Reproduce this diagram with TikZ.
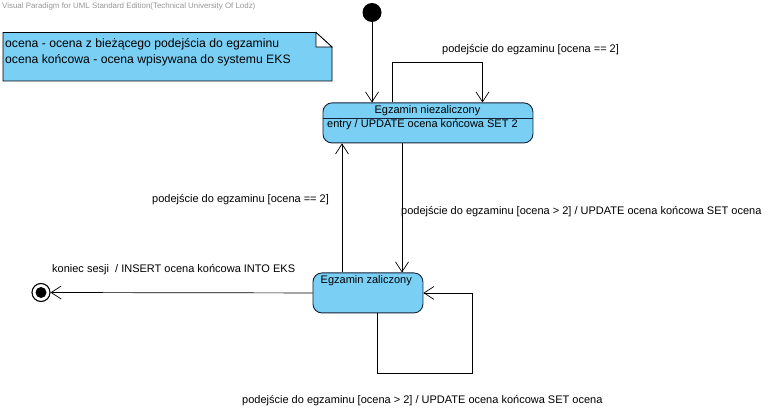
\documentclass[tikz,border=0pt]{standalone}
\usepackage{fontspec}
\setmainfont{Liberation Sans}
\usetikzlibrary{arrows.meta, positioning}
\definecolor{StateBlue}{RGB}{122, 207, 245}
\definecolor{StateLine}{RGB}{22, 34, 58}
\definecolor{MarkGrey}{RGB}{150, 150, 150}

\tikzset{
  state/.style={draw=StateLine, fill=StateBlue, rounded corners=9pt, line width=0.9pt, inner sep=0pt, anchor=north west},
  trans/.style={-{Straight Barb[length=10pt, width=13pt]}, line width=0.7pt},
  lbl/.style={font=\fontsize{11}{12}\selectfont, inner sep=0pt, anchor=base west},
  notelbl/.style={font=\fontsize{12.2}{14}\selectfont, inner sep=0pt, anchor=base west},
}

\begin{document}
\begin{tikzpicture}[x=1pt, y=-1pt]
    \useasboundingbox (0,0) rectangle (777,411);

    % Watermark
    \node[anchor=base west, inner sep=0pt, text=MarkGrey, font=\fontsize{7.9}{9}\selectfont] (mark) at (2,9) {Visual Paradigm for UML Standard Edition(Technical University Of Lodz)};

    % Note
    \draw[fill=StateBlue, line width=0.8pt] (3,32.5) -- (316,32.5) -- (332,47) -- (332,81) -- (3,81) -- cycle;
    \draw[fill=white, line width=0.8pt] (316,32.5) -- (316,47) -- (332,47) -- cycle;
    \node[notelbl] (noteone) at (5,47.7) {ocena - ocena z bieżącego podejścia do egzaminu};
    \node[notelbl] (notetwo) at (5,63.5) {ocena końcowa - ocena wpisywana do systemu EKS};

    % States
    \node[state, minimum width=210, minimum height=40] (fail) at (322.5,102.5) {};
    \draw[draw=StateLine, line width=0.9pt] ([yshift=-15.8pt]fail.north west) -- ([yshift=-15.8pt]fail.north east);
    \node[lbl, anchor=base] (failname) at (427.5,114) {Egzamin niezaliczony};
    \node[lbl] (failentry) at (327,127.7) {entry / UPDATE ocena końcowa SET 2};

    \node[state, minimum width=110, minimum height=40] (pass) at (312.5,272.5) {};
    \node[lbl] (passname) at (320.5,284) {Egzamin zaliczony};

    % Initial and final
    \node[circle, fill=black, minimum size=19, inner sep=0pt] (init) at (372,12.5) {};
    \node[circle, draw, fill=white, line width=1.1pt, minimum size=18, inner sep=0pt] (fin) at (41,292.5) {};
    \node[circle, fill=black, minimum size=11, inner sep=0pt] (finin) at (fin) {};

    % Transitions
    \draw[trans] (init) -- (init |- fail.north);
    \draw[trans] ([xshift=69.5pt]fail.north west) -- ++(0,-40) -| ([xshift=160pt]fail.north west);
    \draw[trans] ([xshift=79.5pt]fail.south west) -- ([xshift=89.5pt]pass.north west);
    \draw[trans] ([xshift=29.5pt]pass.north west) -- ([xshift=19.5pt]fail.south west);
    \draw[trans] ([xshift=65pt]pass.south west) -- ++(0,59.5) -- ++(94.5,0) |- (pass.east);
    \draw[trans] (pass.west) -- (fin);

    % Labels
    \node[lbl] (lblloopa) at (442,53) {podejście do egzaminu [ocena == 2]};
    \node[lbl] (lblback) at (152,203) {podejście do egzaminu [ocena == 2]};
    \node[lbl] (lbldown) at (401,214.5) {podejście do egzaminu [ocena > 2] / UPDATE ocena końcowa SET ocena};
    \node[lbl] (lblloopb) at (242,403.5) {podejście do egzaminu [ocena > 2] / UPDATE ocena końcowa SET ocena};
    \node[lbl] (lblend) at (52,273) {koniec sesji\ \ / INSERT ocena końcowa INTO EKS};
\end{tikzpicture}
\end{document}
